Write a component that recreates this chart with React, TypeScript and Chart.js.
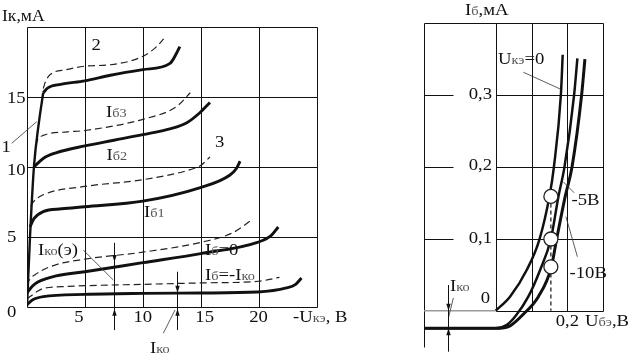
import React, { useEffect, useRef } from 'react';
import { Chart, registerables } from 'chart.js';

Chart.register(...registerables);

type Pt = { x: number; y: number };
const P = (arr: number[][]): Pt[] => arr.map(([x, y]) => ({ x, y }));

// ---------- Left chart: Ik = f(-Uke) ----------
const ukeGrid = [0, 5, 10, 15, 20, 25];
const ikGrid = [0, 5, 10, 15, 20];
const ukeTicks = [5, 10, 15, 20];
const ukeTickLabels = ['5', '10', '15', '20'];
const ukeTickNudge = [-6, 0, 4, 0];
const ikTicks = [0, 5, 10, 15];
const ikTickLabels = ['0', '5', '10', '15'];

const line1 = [[0, 0], [0.26, 5], [0.6, 10], [1.0, 13], [1.4, 15.3]];
const ib3Solid = [[1.4, 15.3], [1.8, 15.65], [2.9, 15.9], [5, 16.15], [7.2, 16.55], [10, 16.95], [12.35, 17.4], [12.9, 18.1], [13.2, 18.6]];
const ib3Dashed = [[1.4, 15.6], [1.6, 16.1], [2.0, 16.6], [3.4, 16.95], [5, 17.2], [7.2, 17.3], [10, 17.9], [11.2, 18.6], [11.8, 19.15]];
const ib2Solid = [[0.6, 10], [1.4, 10.6], [2.5, 11.0], [5, 11.5], [7.5, 11.9], [10, 12.3], [12.5, 12.75], [13.8, 13.15], [14.9, 13.85], [15.8, 14.6]];
const ib2Dashed = [[0.75, 11.5], [0.9, 11.9], [1.4, 12.25], [3.5, 12.5], [5, 12.6], [10, 13.4], [12.9, 14.3], [14.1, 15.3]];
const ib1Solid = [[0.26, 5.7], [0.6, 6.3], [1.4, 6.8], [3, 7.0], [5, 7.15], [10, 7.55], [14.9, 8.5], [17.5, 9.4], [18.1, 9.9], [18.4, 10.4]];
const ib1Dashed = [[0.32, 7.2], [0.55, 7.5], [1.4, 8.0], [5, 8.6], [10, 9.08], [14.1, 9.8], [15, 10.1], [15.8, 10.7]];
const ib0Solid = [[0, 1.0], [0.5, 1.5], [0.9, 1.75], [2.5, 2.2], [5, 2.5], [10, 3.15], [15, 3.8], [19.9, 4.6], [21.1, 5.1], [21.7, 5.7]];
const ib0Dashed = [[0, 1.5], [0.1, 1.75], [0.9, 2.4], [2.5, 3.0], [5, 3.4], [10, 3.9], [15, 4.6], [17.8, 5.3], [19.4, 6.2]];
const ibNegSolid = [[0, 0.15], [0.5, 0.5], [1.4, 0.72], [5, 0.88], [10, 0.95], [15, 0.98], [19.9, 1.05], [22.4, 1.34], [23.2, 1.6], [23.7, 2.05]];
const ibNegDashed = [[0, 0.55], [0.9, 1.1], [1.4, 1.3], [3.5, 1.45], [5, 1.5], [10, 1.6], [15, 1.7], [20, 1.82], [21.8, 2.1]];

// ---------- Right chart: Ib = f(Ube) ----------
const ubeGrid = [0, 0.1, 0.2, 0.3];
const ibGrid = [0.1, 0.2, 0.3];
const ibTickLabels = ['0,1', '0,2', '0,3'];
const curveU0Off = [[-0.2, 0], [0, 0]];
const curveU0 = [[0, 0], [0.04, 0.0195], [0.087, 0.057], [0.122, 0.099], [0.15, 0.159], [0.162, 0.198], [0.182, 0.301], [0.187, 0.356]];
const curveU5 = [[-0.2, -0.0245], [0, -0.0245], [0.03, -0.02], [0.056, -0.007], [0.091, 0.0195], [0.124, 0.0566], [0.154, 0.0997], [0.175, 0.1586], [0.192, 0.2], [0.219, 0.301], [0.228, 0.351]];
const curveU10 = [[-0.2, -0.0245], [0, -0.0245], [0.04, -0.021], [0.077, -0.005], [0.119, 0.0195], [0.155, 0.06], [0.17, 0.0993], [0.194, 0.159], [0.213, 0.2], [0.24, 0.301], [0.249, 0.35]];
const markers = [[0.154, 0.159], [0.154, 0.0997], [0.154, 0.061]];
const markerDrop = [[0.154, 0.159], [0.154, 0]];

const FONT = '"Liberation Serif", "DejaVu Serif", serif';

function drawText(ctx: CanvasRenderingContext2D, s: string, x: number, y: number, size = 17, align: 'left' | 'right' | 'center' = 'left') {
  const SX = 1.1;
  const sub = Math.round(size * 0.74);
  const runs: { t: string; sub: boolean }[] = [];
  const re = /_\{([^}]*)\}/g;
  let last = 0;
  let m: RegExpExecArray | null;
  while ((m = re.exec(s))) {
    if (m.index > last) runs.push({ t: s.slice(last, m.index), sub: false });
    runs.push({ t: m[1], sub: true });
    last = m.index + m[0].length;
  }
  if (last < s.length) runs.push({ t: s.slice(last), sub: false });
  let w = 0;
  for (const r of runs) {
    ctx.font = `${r.sub ? sub : size}px ${FONT}`;
    w += ctx.measureText(r.t).width;
  }
  const x0 = align === 'left' ? x : align === 'right' ? x - w * SX : x - (w * SX) / 2;
  ctx.save();
  ctx.translate(x0, y);
  ctx.scale(SX, 1);
  ctx.textBaseline = 'alphabetic';
  ctx.textAlign = 'left';
  let ox = 0;
  for (const r of runs) {
    ctx.font = `${r.sub ? sub : size}px ${FONT}`;
    ctx.fillStyle = r.sub ? '#555' : '#111';
    ctx.fillText(r.t, ox, 0);
    ox += ctx.measureText(r.t).width;
  }
  ctx.restore();
}

function arrowHead(ctx: CanvasRenderingContext2D, x: number, tipY: number, dir: number) {
  const L = 7, W = 2.2;
  ctx.beginPath();
  ctx.moveTo(x, tipY);
  ctx.lineTo(x - W, tipY - dir * L);
  ctx.lineTo(x + W, tipY - dir * L);
  ctx.closePath();
  ctx.fill();
}

const solid = (data: number[][], w = 2.9, color = '#111') => ({
  data: P(data), borderColor: color, borderWidth: w, pointRadius: 0,
  cubicInterpolationMode: 'monotone' as const, fill: false,
});
const dashed = (data: number[][]) => ({
  data: P(data), borderColor: '#222', borderWidth: 1.2, borderDash: [7, 4], pointRadius: 0,
  cubicInterpolationMode: 'monotone' as const, fill: false,
});

const leftPlugin = {
  id: 'leftDeco',
  beforeDatasetsDraw(chart: any) {
    const { ctx, scales: { x, y } } = chart;
    const X = (v: number) => Math.round(x.getPixelForValue(v)) + 0.5;
    const Y = (v: number) => Math.round(y.getPixelForValue(v)) + 0.5;
    ctx.save();
    ctx.strokeStyle = '#111';
    ctx.lineWidth = 1;
    ctx.beginPath();
    for (const v of ukeGrid) { ctx.moveTo(X(v), Y(ikGrid[0])); ctx.lineTo(X(v), Y(ikGrid[ikGrid.length - 1])); }
    for (const v of ikGrid) { ctx.moveTo(X(ukeGrid[0]), Y(v)); ctx.lineTo(X(ukeGrid[ukeGrid.length - 1]), Y(v)); }
    ctx.stroke();
    ctx.restore();
  },
  afterDatasetsDraw(chart: any) {
    const { ctx, scales: { x, y } } = chart;
    const X = (v: number) => x.getPixelForValue(v);
    const Y = (v: number) => y.getPixelForValue(v);
    ctx.save();
    ukeTicks.forEach((v, i) => drawText(ctx, ukeTickLabels[i], X(v) + ukeTickNudge[i], 322, 17, 'center'));
    const yBase = [317, 242, 175, 103];
    ikTicks.forEach((v, i) => drawText(ctx, ikTickLabels[i], 7, yBase[i], 17, 'left'));
    ctx.strokeStyle = '#111';
    ctx.fillStyle = '#111';
    ctx.lineWidth = 1;
    const arrows = [
      { x: 7.5, top: 4.57, bot: -1.67, down: 3.2, up: -0.15 },
      { x: 12.95, top: 2.5, bot: -1.67, down: 1.0, up: -0.15 },
    ];
    for (const a of arrows) {
      const px = Math.round(X(a.x)) + 0.5;
      ctx.beginPath(); ctx.moveTo(px, Y(a.top)); ctx.lineTo(px, Y(a.bot)); ctx.stroke();
      arrowHead(ctx, px, Y(a.down), 1);
      arrowHead(ctx, px, Y(a.up), -1);
    }
    ctx.lineWidth = 0.8;
    ctx.strokeStyle = '#333';
    const leaders = [
      [-1.32, 11.68, 0.84, 13.23],
      [4.86, 4.05, 7.45, 1.91],
      [12.78, -0.24, 11.77, -1.9],
    ];
    for (const [a, b, c, d] of leaders) {
      ctx.beginPath(); ctx.moveTo(X(a), Y(b)); ctx.lineTo(X(c), Y(d)); ctx.stroke();
    }
    drawText(ctx, 'Iк,мА', 2, 21, 16);
    drawText(ctx, '-U_{кэ}, В', 293, 322, 17);
    drawText(ctx, 'I_{ко}(э)', 38, 255, 17);
    drawText(ctx, 'I_{б}=0', 205, 255, 17);
    drawText(ctx, 'I_{б}=-I_{ко}', 205, 280, 17);
    drawText(ctx, 'I_{б3}', 106, 116.5, 17);
    drawText(ctx, 'I_{б2}', 106.5, 160, 17);
    drawText(ctx, 'I_{б1}', 144, 216.5, 17);
    drawText(ctx, '2', 91.5, 50, 17);
    drawText(ctx, '3', 215, 146.5, 17);
    drawText(ctx, '1', 1.5, 151.5, 17);
    drawText(ctx, 'I_{ко}', 150, 353, 17);
    ctx.restore();
  },
};

const rightPlugin = {
  id: 'rightDeco',
  beforeDatasetsDraw(chart: any) {
    const { ctx, scales: { x, y } } = chart;
    const X = (v: number) => Math.round(x.getPixelForValue(v)) + 0.5;
    const Y = (v: number) => Math.round(y.getPixelForValue(v)) + 0.5;
    ctx.save();
    ctx.strokeStyle = '#111';
    ctx.lineWidth = 1;
    ctx.beginPath();
    ctx.moveTo(X(-0.2), Y(0.4)); ctx.lineTo(X(0.3), Y(0.4));
    ctx.moveTo(X(-0.2), Y(0.4)); ctx.lineTo(X(-0.2), Y(-0.05));
    for (const v of ubeGrid) { ctx.moveTo(X(v), Y(0.4)); ctx.lineTo(X(v), Y(0)); }
    for (const v of ibGrid) {
      ctx.moveTo(X(0), Y(v)); ctx.lineTo(X(0.3), Y(v));
      ctx.moveTo(X(-0.2), Y(v)); ctx.lineTo(X(-0.118), Y(v));
    }
    ctx.moveTo(X(0), Y(0)); ctx.lineTo(X(0.3), Y(0));
    ctx.stroke();
    ctx.restore();
  },
  afterDatasetsDraw(chart: any) {
    const { ctx, scales: { x, y } } = chart;
    const X = (v: number) => x.getPixelForValue(v);
    const Y = (v: number) => y.getPixelForValue(v);
    const off = 395;
    ctx.save();
    const yb = [243, 170, 98.5];
    ibGrid.forEach((v, i) => drawText(ctx, ibTickLabels[i], 492 - off, yb[i], 17, 'right'));
    drawText(ctx, '0', 490 - off, 303, 17, 'right');
    drawText(ctx, '0,2', X(0.2), 326, 17, 'center');
    drawText(ctx, 'U_{бэ},В', 585 - off, 326, 17);
    drawText(ctx, 'I_{б},мА', 465 - off, 15, 17);
    drawText(ctx, 'U_{кэ}=0', 498 - off, 63.5, 17);
    drawText(ctx, '-5В', 571.5 - off, 205, 17);
    drawText(ctx, '-10В', 569.5 - off, 278, 17);
    drawText(ctx, 'I_{ко}', 450 - off, 291, 17);
    ctx.strokeStyle = '#333';
    ctx.lineWidth = 0.8;
    const leaders = [
      [0.0774, 0.3316, 0.1816, 0.308],
      [0.189, 0.179, 0.219, 0.164],
      [0.196, 0.1307, 0.228, 0.0751],
      [-0.118, 0.0177, -0.132, -0.0102],
    ];
    for (const [a, b, c, d] of leaders) {
      ctx.beginPath(); ctx.moveTo(X(a), Y(b)); ctx.lineTo(X(c), Y(d)); ctx.stroke();
    }
    ctx.strokeStyle = '#111';
    ctx.fillStyle = '#111';
    ctx.lineWidth = 1;
    const px = Math.round(X(-0.132)) + 0.5;
    ctx.beginPath(); ctx.moveTo(px, Y(0.0357)); ctx.lineTo(px, Y(-0.057)); ctx.stroke();
    arrowHead(ctx, px, Y(0), 1);
    arrowHead(ctx, px, Y(-0.0245), -1);
    ctx.restore();
  },
};

export default function App() {
  const leftRef = useRef<HTMLCanvasElement>(null);
  const rightRef = useRef<HTMLCanvasElement>(null);

  useEffect(() => {
    const common = {
      animation: false as const,
      responsive: false,
      events: [] as any[],
      plugins: { legend: { display: false }, tooltip: { enabled: false } },
    };
    const c1 = new Chart(leftRef.current!, {
      type: 'line',
      data: {
        datasets: [
          solid(line1, 2.4),
          solid(ib3Solid), dashed(ib3Dashed),
          solid(ib2Solid), dashed(ib2Dashed),
          solid(ib1Solid), dashed(ib1Dashed),
          solid(ib0Solid), dashed(ib0Dashed),
          solid(ibNegSolid), dashed(ibNegDashed),
        ] as any,
      },
      options: {
        ...common,
        layout: { padding: { left: 27, top: 27, right: 360 - 316.5, bottom: 355 - 306.7 } },
        scales: {
          x: { type: 'linear', min: 0, max: 25, display: false },
          y: { type: 'linear', min: 0, max: 20, display: false },
        },
      } as any,
      plugins: [leftPlugin],
    });
    const c2 = new Chart(rightRef.current!, {
      type: 'line',
      data: {
        datasets: [
          {
            data: P(markers), showLine: false, pointRadius: 7, pointBackgroundColor: '#fff',
            pointBorderColor: '#222', pointBorderWidth: 1.3, borderWidth: 0,
          },
          { data: P(markerDrop), borderColor: '#222', borderWidth: 1.3, borderDash: [4, 3], pointRadius: 0 },
          solid(curveU0, 2.5),
          solid(curveU5, 2.5),
          solid(curveU10, 3),
          solid(curveU0Off, 1.5, '#9a9a9a'),
        ] as any,
      },
      options: {
        ...common,
        layout: { padding: { left: 424 - 395, top: 23.1, right: 238 - (603.2 - 395), bottom: 355 - 346.65 } },
        scales: {
          x: { type: 'linear', min: -0.2, max: 0.3, display: false },
          y: { type: 'linear', min: -0.05, max: 0.4, display: false },
        },
      } as any,
      plugins: [rightPlugin],
    });
    return () => { c1.destroy(); c2.destroy(); };
  }, []);

  return (
    <div style={{ position: 'fixed', left: 0, top: 0, width: 633, height: 355, background: '#fff', overflow: 'hidden' }}>
      <canvas ref={leftRef} width={360} height={355} style={{ position: 'absolute', left: 0, top: 0, width: 360, height: 355 }} />
      <canvas ref={rightRef} width={238} height={355} style={{ position: 'absolute', left: 395, top: 0, width: 238, height: 355 }} />
    </div>
  );
}
